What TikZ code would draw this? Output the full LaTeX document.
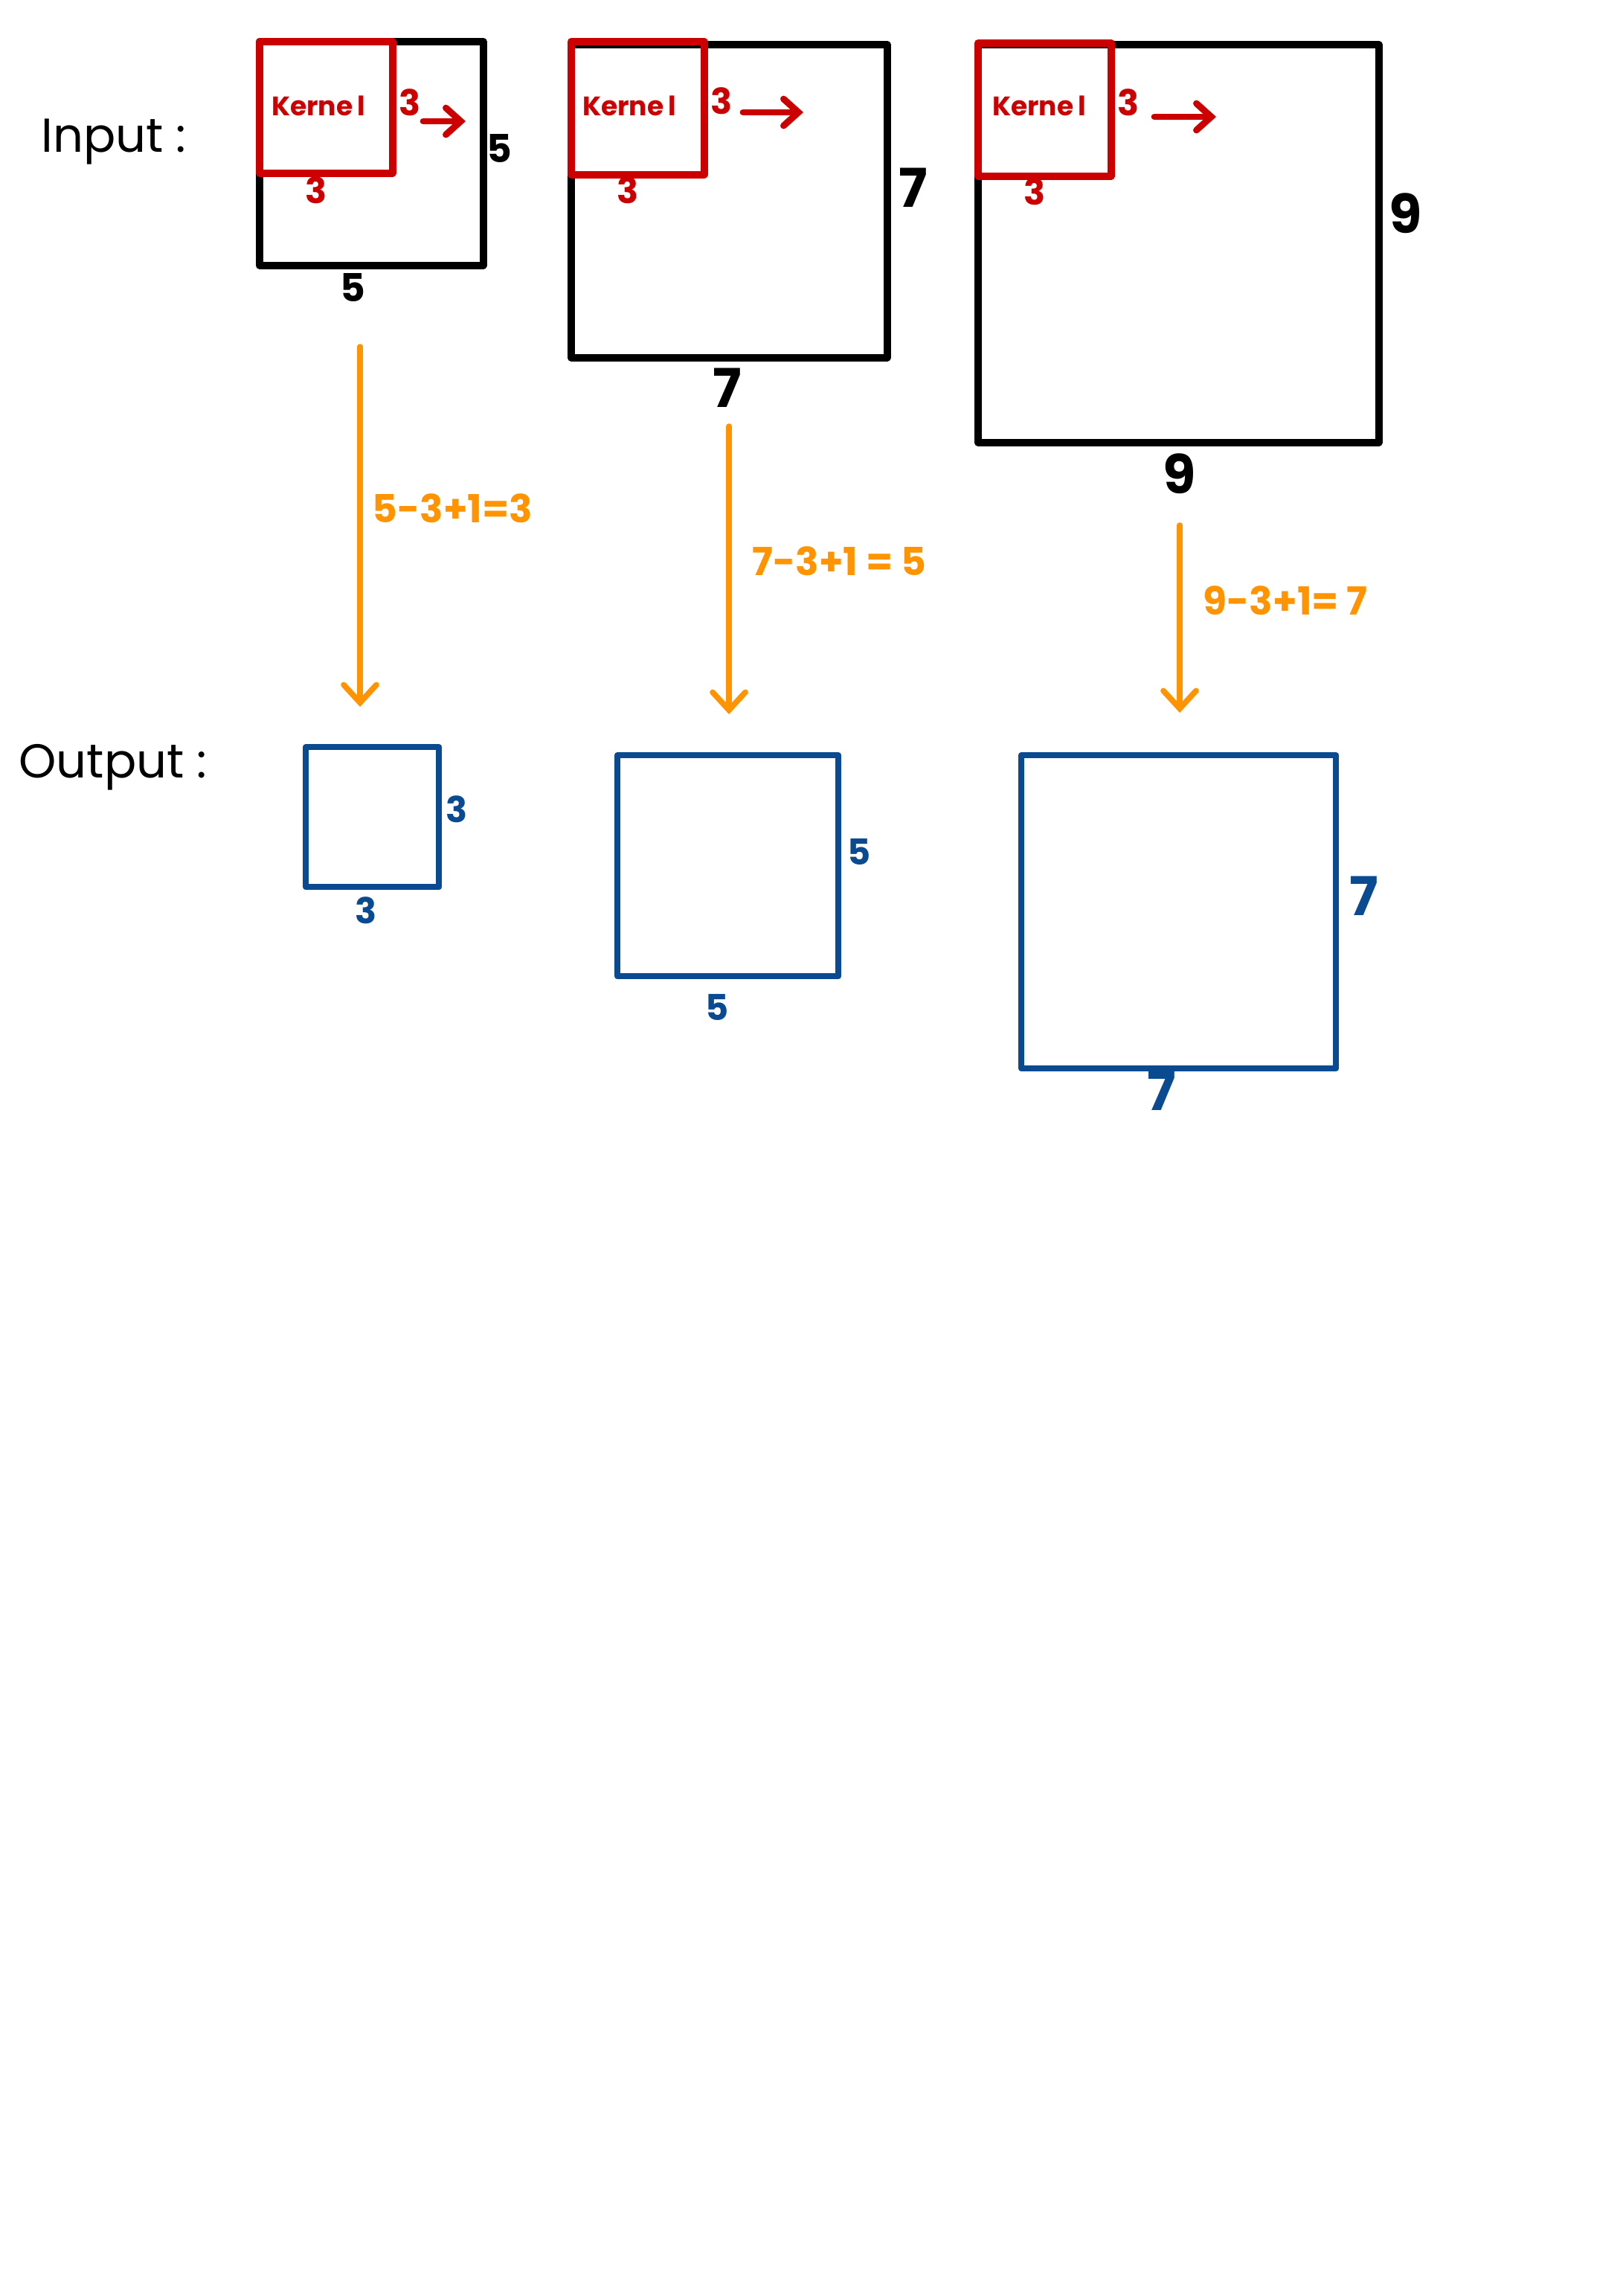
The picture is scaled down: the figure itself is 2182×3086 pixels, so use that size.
\documentclass[tikz,border=0pt]{standalone}
\usepackage{fontspec}
\setmainfont{Poppins}
\usetikzlibrary{arrows.meta}
\definecolor{kred}{RGB}{204,0,0}
\definecolor{oblue}{RGB}{10,74,144}
\definecolor{aorange}{RGB}{255,148,0}
\begin{document}
\begin{tikzpicture}[x=0.25pt,y=-0.25pt,
  inbox/.style={draw=black,line width=2.4pt,rectangle,inner sep=0pt,anchor=north west,line join=round},
  kbox/.style={draw=kred,line width=2.4pt,rectangle,inner sep=0pt,anchor=north west,line join=round},
  outbox/.style={draw=oblue,line width=2.1pt,rectangle,inner sep=0pt,anchor=north west,line join=round},
  blab/.style={text=black,font=\fontsize{13}{15}\selectfont\bfseries,inner sep=0pt},
  blabL/.style={text=black,font=\fontsize{18}{21}\selectfont\bfseries,inner sep=0pt},
  rlab/.style={text=kred,font=\fontsize{12}{14}\selectfont\bfseries,inner sep=0pt},
  klab/.style={text=kred,font=\fontsize{9}{11}\selectfont\bfseries,inner sep=0pt},
  olab/.style={text=aorange,font=\fontsize{13}{15}\selectfont\bfseries,inner sep=0pt,anchor=west},
  ulab/.style={text=oblue,font=\fontsize{12}{14}\selectfont\bfseries,inner sep=0pt},
  ulabL/.style={text=oblue,font=\fontsize{18}{21}\selectfont\bfseries,inner sep=0pt},
  title/.style={text=black,font=\fontsize{16}{19}\selectfont,inner sep=0pt},
  flow/.style={draw=aorange,line width=1.9pt,line cap=round,-{Straight Barb[length=6pt,width=11pt,line cap=round]}},
  slide/.style={draw=kred,line width=2.2pt,line cap=round,-{Straight Barb[length=5pt,width=9pt,line cap=round]}}
]
\fill[white] (0,0) rectangle (2182,3086);
\useasboundingbox (0,0) rectangle (2182,3086);

% titles
\node[title] (tin) at (153,191) {Input :};
\node[title] (tout) at (152,1031) {Output :};

% input 1 (5x5)
\node[inbox,minimum width=75.25pt,minimum height=75.25pt] (in1) at (344,51) {};
\node[kbox,minimum width=44.75pt,minimum height=44.25pt] (k1) at (344,51) {};
\node[klab] (kt1) at (428,142) {Kerne\,l};
\node[rlab] (k1r) at (551,138) {3};
\node[rlab] (k1b) at (425,256) {3};
\coordinate (a1s) at (569,163);
\coordinate (a1e) at (626,163);
\draw[slide] (a1s) -- (a1e);
\node[blab] (in1r) at (671,199) {5};
\node[blab] (in1b) at (474,386) {5};

% input 2 (7x7)
\node[inbox,minimum width=106.25pt,minimum height=105.25pt] (in2) at (763,55) {};
\node[kbox,minimum width=44.75pt,minimum height=44.75pt] (k2) at (763,51) {};
\node[klab] (kt2) at (846,142) {Kerne\,l};
\node[rlab] (k2r) at (970,136) {3};
\node[rlab] (k2b) at (844,256) {3};
\coordinate (a2s) at (999,151);
\coordinate (a2e) at (1080,151);
\draw[slide] (a2s) -- (a2e);
\node[blabL] (in2r) at (1228,252) {7};
\node[blabL] (in2b) at (978,521) {7};

% input 3 (9x9)
\node[inbox,minimum width=134.75pt,minimum height=133.75pt] (in3) at (1310,55) {};
\node[kbox,minimum width=44.75pt,minimum height=44.75pt] (k3) at (1310,53) {};
\node[klab] (kt3) at (1397,142) {Kerne\,l};
\node[rlab] (k3r) at (1517,138) {3};
\node[rlab] (k3b) at (1391,258) {3};
\coordinate (a3s) at (1552,157);
\coordinate (a3e) at (1635,157);
\draw[slide] (a3s) -- (a3e);
\node[blabL] (in3r) at (1890,287) {9};
\node[blabL] (in3b) at (1586,637) {9};

% outputs
\node[outbox,minimum width=44.75pt,minimum height=47pt] (o1) at (407,1000) {};
\node[ulab] (o1r) at (614,1088) {3};
\node[ulab] (o1b) at (492,1224) {3};

\node[outbox,minimum width=74.25pt,minimum height=74.25pt] (o2) at (826,1011) {};
\node[ulab] (o2r) at (1155,1145) {5};
\node[ulab] (o2b) at (964,1354) {5};

\node[outbox,minimum width=105.75pt,minimum height=105.25pt] (o3) at (1369,1011) {};
\node[ulabL] (o3r) at (1834,1204) {7};
\node[ulabL] (o3b) at (1562,1466) {7};

% orange arrows
\coordinate (f1s) at (484,466);
\coordinate (f1e) at (484,950);
\draw[flow] (f1s) -- (f1e);
\node[olab] (f1l) at (500,683) {5-3+1=3};

\coordinate (f2s) at (980,573);
\coordinate (f2e) at (980,960);
\draw[flow] (f2s) -- (f2e);
\node[olab] (f2l) at (1011,754) {7-3+1 = 5};

\coordinate (f3s) at (1586,706);
\coordinate (f3e) at (1586,958);
\draw[flow] (f3s) -- (f3e);
\node[olab] (f3l) at (1617,807) {9-3+1= 7};
\end{tikzpicture}
\end{document}
